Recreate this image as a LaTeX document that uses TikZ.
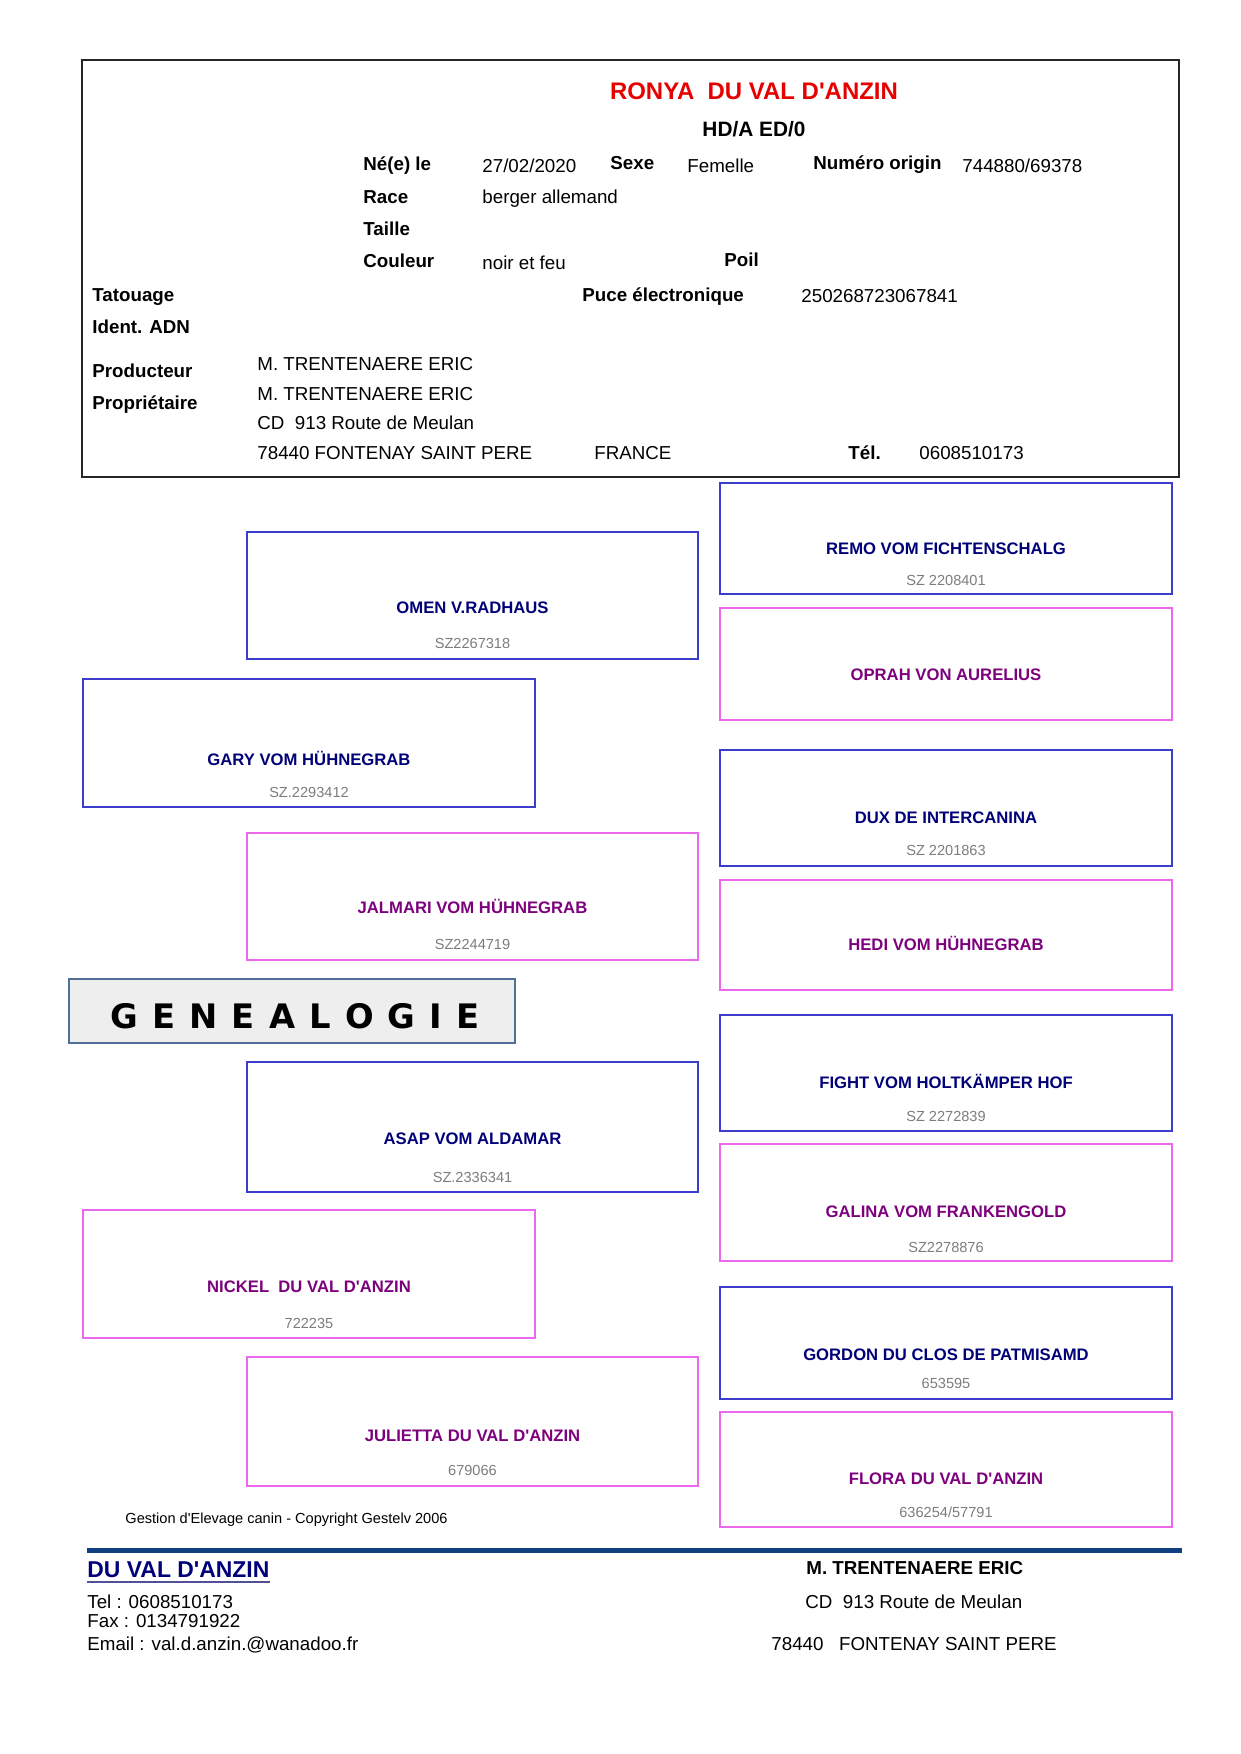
\documentclass[tikz,border=0pt]{standalone}
\usepackage{fontspec}
\setmainfont{Liberation Sans}
\newfontfamily\genfont{DejaVu Sans}
\usetikzlibrary{fit}
\definecolor{boxblue}{RGB}{60,60,205}
\definecolor{boxpink}{RGB}{236,104,236}
\definecolor{navyname}{RGB}{0,0,120}
\definecolor{purplename}{RGB}{125,0,125}
\definecolor{regnogray}{RGB}{125,125,125}
\definecolor{titlered}{RGB}{230,0,0}
\definecolor{genfill}{RGB}{238,238,238}
\definecolor{genborder}{RGB}{80,110,150}
\definecolor{footblue}{RGB}{16,64,128}
\definecolor{ulblue}{RGB}{80,80,150}
\newcommand{\gsp}{\hspace{6.8pt}}
\newcommand{\apo}{\textquotesingle}
\tikzset{
  lbl/.style={font=\fontsize{9}{11}\selectfont\bfseries, inner sep=0pt, anchor=base west},
  val/.style={font=\fontsize{9}{11}\selectfont, inner sep=0pt, anchor=base west},
  bluebox/.style={draw=boxblue, line width=0.8pt, inner sep=0pt},
  pinkbox/.style={draw=boxpink, line width=0.8pt, inner sep=0pt},
  mname/.style={font=\fontsize{8}{10}\selectfont\bfseries, text=navyname, inner sep=0pt, anchor=base},
  fname/.style={font=\fontsize{8}{10}\selectfont\bfseries, text=purplename, inner sep=0pt, anchor=base},
  regno/.style={font=\fontsize{7}{9}\selectfont, text=regnogray, inner sep=0pt, anchor=base},
}
\begin{document}
\begin{tikzpicture}[x=0.48pt, y=-0.48pt]
\useasboundingbox (0,0) rectangle (1241,1754);
\fill[white] (0,0) rectangle (1241,1754);

% ===== header box =====
\node[draw=black!85, line width=1.1pt, inner sep=0pt, fit={(82,60) (1179,477)}] (hdr) {};
\node[font=\fontsize{11.5}{13}\selectfont\bfseries, text=titlered, inner sep=0pt, anchor=base] (title) at (754,99) {RONYA\ \ DU VAL D\apo ANZIN};
\node[font=\fontsize{10}{12}\selectfont\bfseries, inner sep=0pt, anchor=base] (hd) at (754,136) {HD/A ED/0};

\node[lbl] (nelbl) at (363,170) {Né(e) le};
\node[val] (neval) at (482,172) {27/02/2020};
\node[lbl] (sexlbl) at (610,169) {Sexe};
\node[val] (sexval) at (687,172) {Femelle};
\node[lbl] (numlbl) at (813,169) {Numéro origin};
\node[val] (numval) at (962,172) {744880/69378};

\node[lbl] (racelbl) at (363,203) {Race};
\node[val] (raceval) at (482,203) {berger allemand};
\node[lbl] (taillbl) at (363,235) {Taille};
\node[lbl] (coullbl) at (363,267) {Couleur};
\node[val] (coulval) at (482,269) {noir et feu};
\node[lbl] (poillbl) at (724,266) {Poil};

\node[lbl] (tatlbl) at (92,301) {Tatouage};
\node[lbl] (pucelbl) at (582,301) {Puce électronique};
\node[val] (puceval) at (801,302) {250268723067841};
\node[lbl] (adnlbl) at (92,333) {Ident. ADN};

\node[lbl] (prodlbl) at (92,377) {Producteur};
\node[val] (prodval) at (257,370) {M. TRENTENAERE ERIC};
\node[lbl] (proplbl) at (92,409) {Propriétaire};
\node[val] (propval) at (257,400) {M. TRENTENAERE ERIC};
\node[val] (addr1) at (257,429) {CD\ \ 913 Route de Meulan};
\node[val] (addr2) at (257,459) {78440 FONTENAY SAINT PERE};
\node[val] (country) at (594,459) {FRANCE};
\node[lbl] (tellbl) at (848,459) {Tél.};
\node[val] (telval) at (919,459) {0608510173};

% ===== right column (great-grandparents) =====
\node[bluebox, fit={(720,483) (1172,594)}] (r1) {};
\node[mname] (r1n) at (946,554) {REMO VOM FICHTENSCHALG};
\node[regno] (r1s) at (946,585) {SZ 2208401};

\node[pinkbox, fit={(720,608) (1172,720)}] (r2) {};
\node[fname] (r2n) at (946,680) {OPRAH VON AURELIUS};

\node[bluebox, fit={(720,750) (1172,866)}] (r3) {};
\node[mname] (r3n) at (946,823) {DUX DE INTERCANINA};
\node[regno] (r3s) at (946,855) {SZ 2201863};

\node[pinkbox, fit={(720,880) (1172,990)}] (r4) {};
\node[fname] (r4n) at (946,950) {HEDI VOM HÜHNEGRAB};

\node[bluebox, fit={(720,1015) (1172,1131)}] (r5) {};
\node[mname] (r5n) at (946,1088) {FIGHT VOM HOLTKÄMPER HOF};
\node[regno] (r5s) at (946,1121) {SZ 2272839};

\node[pinkbox, fit={(720,1144) (1172,1261)}] (r6) {};
\node[fname] (r6n) at (946,1217) {GALINA VOM FRANKENGOLD};
\node[regno] (r6s) at (946,1252) {SZ2278876};

\node[bluebox, fit={(720,1287) (1172,1399)}] (r7) {};
\node[mname] (r7n) at (946,1360) {GORDON DU CLOS DE PATMISAMD};
\node[regno] (r7s) at (946,1388) {653595};

\node[pinkbox, fit={(720,1412) (1172,1527)}] (r8) {};
\node[fname] (r8n) at (946,1484) {FLORA DU VAL D\apo ANZIN};
\node[regno] (r8s) at (946,1517) {636254/57791};

% ===== middle column (grandparents) =====
\node[bluebox, fit={(247,532) (698,659)}] (m1) {};
\node[mname] (m1n) at (472.5,613) {OMEN V.RADHAUS};
\node[regno] (m1s) at (472.5,648) {SZ2267318};

\node[pinkbox, fit={(247,833) (698,960)}] (m2) {};
\node[fname] (m2n) at (472.5,913) {JALMARI VOM HÜHNEGRAB};
\node[regno] (m2s) at (472.5,949) {SZ2244719};

\node[bluebox, fit={(247,1062) (698,1192)}] (m3) {};
\node[mname] (m3n) at (472.5,1144) {ASAP VOM ALDAMAR};
\node[regno] (m3s) at (472.5,1182) {SZ.2336341};

\node[pinkbox, fit={(247,1357) (698,1486)}] (m4) {};
\node[fname] (m4n) at (472.5,1441) {JULIETTA DU VAL D\apo ANZIN};
\node[regno] (m4s) at (472.5,1475) {679066};

% ===== left column (parents) =====
\node[bluebox, fit={(83,679) (535,807)}] (l1) {};
\node[mname] (l1n) at (309,765) {GARY VOM HÜHNEGRAB};
\node[regno] (l1s) at (309,797) {SZ.2293412};

\node[pinkbox, fit={(83,1210) (535,1338)}] (l2) {};
\node[fname] (l2n) at (309,1292) {NICKEL\ \ DU VAL D\apo ANZIN};
\node[regno] (l2s) at (309,1328) {722235};

% ===== GENEALOGIE banner =====
\node[draw=genborder, fill=genfill, line width=0.8pt, inner sep=0pt, fit={(69,979) (515,1043)}] (gen) {};
\node[font=\genfont\fontsize{16.2}{18}\selectfont\bfseries, inner sep=0pt, anchor=base west] (gentxt) at (110,1028)
  {G\gsp E\gsp N\gsp E\gsp A\gsp L\gsp O\gsp G\gsp I\gsp E};

\node[font=\fontsize{7}{9}\selectfont, inner sep=0pt, anchor=base west] (copy) at (125,1523)
  {Gestion d\apo Elevage canin - Copyright Gestelv 2006};

% ===== footer =====
\coordinate (fl1) at (87,1550);
\coordinate (fl2) at (1182,1550);
\draw[footblue, line width=2.4pt] (fl1) -- (fl2);

\node[font=\fontsize{11}{13}\selectfont\bfseries, text=navyname, inner sep=0pt, anchor=base west] (dv) at (87,1577) {DU VAL D\apo ANZIN};
\draw[ulblue, line width=1.1pt] ([yshift=-2.4pt]dv.base west) -- ([yshift=-2.4pt]dv.base east);
\node[val] (ftel) at (87,1608) {Tel : 0608510173};
\node[val] (ffax) at (87,1627) {Fax : 0134791922};
\node[val] (fmail) at (87,1650) {Email : val.d.anzin.@wanadoo.fr};

\node[lbl] (fname1) at (806,1574) {M. TRENTENAERE ERIC};
\node[val] (faddr1) at (805,1608) {CD\ \ 913 Route de Meulan};
\node[val] (faddr2) at (771,1650) {78440\ \ \ FONTENAY SAINT PERE};
\end{tikzpicture}
\end{document}
